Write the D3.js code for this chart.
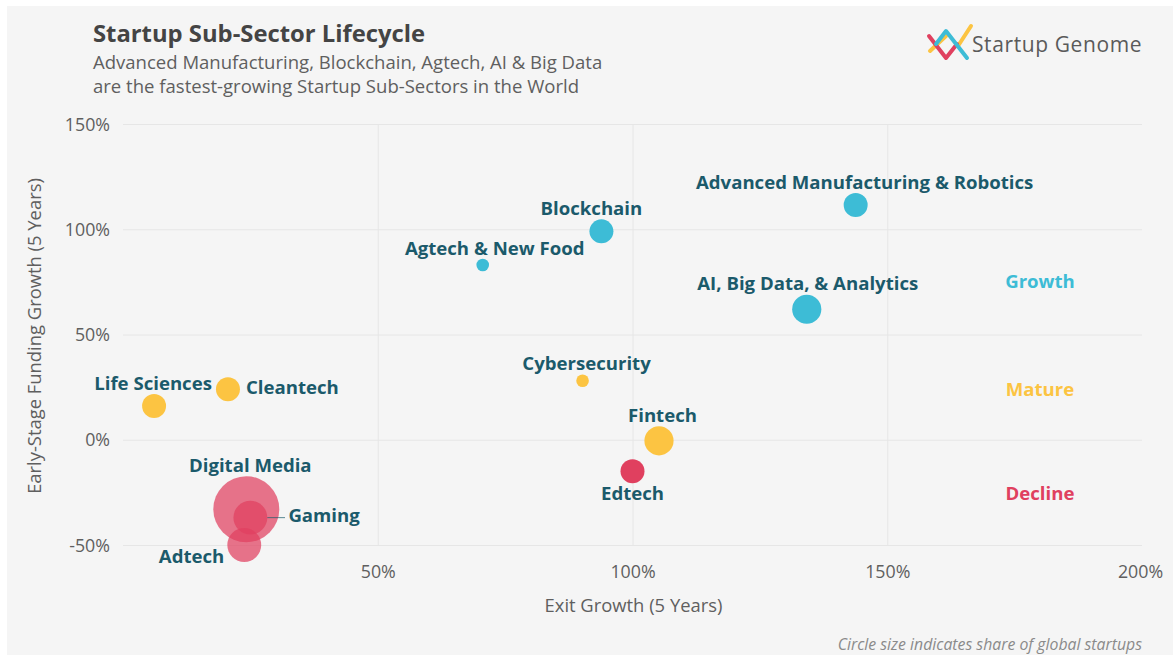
<!DOCTYPE html>
<html><head><meta charset="utf-8">
<script src="https://cdn.jsdelivr.net/npm/d3@7/dist/d3.min.js"></script>
<style>html,body{margin:0;padding:0;background:#fff}svg{display:block}text{font-family:"Open Sans",sans-serif}</style>
</head><body><svg id="c" width="1173" height="655"></svg>
<script>
const sectors=["Advanced Manufacturing & Robotics","Blockchain","Agtech & New Food","AI, Big Data, & Analytics","Cybersecurity","Fintech","Edtech","Life Sciences","Cleantech","Digital Media","Gaming","Adtech"];
const exitGrowth=[143.8,93.9,70.6,134.2,90.2,105.2,100,6.1,20.6,24.2,25,23.8];
const fundingGrowth=[111.5,99,83,62,28,-0.5,-15,16,24,-33,-37,-50];
const share=[2.9,2.9,0.8,4.3,0.8,4.3,2.9,2.9,2.9,22,5.8,5.8];
const stages=["Growth","Growth","Growth","Growth","Mature","Mature","Decline","Mature","Mature","Decline","Decline","Decline"];
const stageNames=["Growth","Mature","Decline"];
const stageColors=["#3dbcd6","#fcc442","#e0405f"];
const xTicks=[50,100,150,200];
const yTicks=[-50,0,50,100,150];

const svg=d3.select("#c");
const x=d3.scaleLinear().domain([0,200]).range([123,1142]);
const y=d3.scaleLinear().domain([-50,150]).range([545,124]);
const r=d3.scaleSqrt().domain([0,22]).range([0,33]);
const color=d3.scaleOrdinal().domain(stageNames).range(stageColors);
const teal="#1b5a6b", grey="#5f5f5f";

svg.append("rect").attr("x",7).attr("y",6).attr("width",1166).attr("height",649).attr("fill","#f5f5f5");

// axes
const xAxis=svg.append("g").attr("transform",`translate(0,${y(150)})`).call(d3.axisBottom(x).tickValues(xTicks).tickSize(y(-50)-y(150)).tickFormat(d=>d+"%"));
const yAxis=svg.append("g").attr("transform",`translate(${x(0)},0)`).call(d3.axisLeft(y).tickValues(yTicks).tickSize(x(0)-x(200)).tickFormat(d=>d+"%"));
[xAxis,yAxis].forEach(g=>{
  g.select(".domain").remove();
  g.selectAll("line").attr("stroke","#e6e6e6").attr("stroke-width",1);
  g.selectAll("text").attr("fill",grey).attr("font-size",17.8);
});
xAxis.selectAll("text").attr("y",y(-50)-y(150)+27).attr("dy","0.35em");
xAxis.selectAll(".tick").filter(d=>d===200).select("text").attr("dx",-2);
xAxis.selectAll(".tick").filter(d=>d===200).select("line").remove();
yAxis.selectAll("text").attr("x",-13).attr("dy","0.35em");

// bubbles
const data=sectors.map((s,i)=>({s,x:exitGrowth[i],y:fundingGrowth[i],share:share[i],stage:stages[i]}));
const drawOrder=data.slice().sort((a,b)=>b.share-a.share);
svg.append("g").selectAll("circle").data(drawOrder).join("circle")
  .attr("cx",d=>x(d.x)).attr("cy",d=>y(d.y)).attr("r",d=>r(d.share))
  .attr("fill",d=>color(d.stage))
  .attr("fill-opacity",d=>["Digital Media","Adtech","Gaming"].includes(d.s)?0.72:1);

// Gaming leader line
const gaming=data.find(d=>d.s==="Gaming");
svg.append("line").attr("x1",x(gaming.x)+r(gaming.share)).attr("x2",285).attr("y1",y(gaming.y)).attr("y2",y(gaming.y))
  .attr("stroke",teal).attr("stroke-opacity",.7).attr("stroke-width",1);

// labels: offsets from each bubble centre
const labelOffsets={
 "Advanced Manufacturing & Robotics":[9,-23,"middle"],
 "Blockchain":[-10,-23,"middle"],
 "Agtech & New Food":[12,-17,"middle"],
 "AI, Big Data, & Analytics":[1,-26,"middle"],
 "Cybersecurity":[4,-17,"middle"],
 "Fintech":[3.5,-25,"middle"],
 "Edtech":[0,22,"middle"],
 "Life Sciences":[-1,-23,"middle"],
 "Cleantech":[18,-2,"start"],
 "Digital Media":[4,-44,"middle"],
 "Gaming":[38,-2,"start"],
 "Adtech":[-20,11,"end"]
};
svg.append("g").selectAll("text").data(data).join("text")
  .attr("x",d=>x(d.x)+labelOffsets[d.s][0]).attr("y",d=>y(d.y)+labelOffsets[d.s][1])
  .attr("text-anchor",d=>labelOffsets[d.s][2]).attr("dy","0.35em")
  .attr("font-size",18.6).attr("font-weight",700).attr("fill",teal).text(d=>d.s);

// stage legend
svg.append("g").selectAll("text").data(stageNames).join("text")
  .attr("x",1040).attr("y",(d,i)=>[281,389,493][i]).attr("dy","0.35em").attr("text-anchor","middle")
  .attr("font-size",18.6).attr("font-weight",700).attr("fill",d=>color(d)).text(d=>d);

// titles
svg.append("text").attr("x",93).attr("y",42).attr("font-size",23.8).attr("font-weight",700).attr("fill","#444").text("Startup Sub-Sector Lifecycle");
svg.append("text").attr("x",93).attr("y",69).attr("font-size",18.55).attr("fill",grey).text("Advanced Manufacturing, Blockchain, Agtech, AI & Big Data");
svg.append("text").attr("x",93).attr("y",93).attr("font-size",18.55).attr("fill",grey).text("are the fastest-growing Startup Sub-Sectors in the World");

// axis titles
svg.append("text").attr("x",633.5).attr("y",612).attr("text-anchor","middle").attr("font-size",18.4).attr("fill",grey).text("Exit Growth (5 Years)");
svg.append("text").attr("transform","translate(41,336) rotate(-90)").attr("text-anchor","middle").attr("font-size",18.4).attr("fill",grey).text("Early-Stage Funding Growth (5 Years)");
svg.append("text").attr("x",1142).attr("y",650).attr("text-anchor","end").attr("font-size",15.8).attr("font-style","italic").attr("fill","#8a8a8a").text("Circle size indicates share of global startups");

// logo
const logo=svg.append("g").attr("fill","none").attr("stroke-width",4).attr("stroke-linecap","round").attr("stroke-linejoin","round");
logo.append("path").attr("stroke","#fcc442").attr("d","M930 51 L946 36 M958 46 L971 26");
logo.append("path").attr("stroke","#e0405f").attr("d","M929 36 L946 58 L957 44");
logo.append("path").attr("stroke","#3dbcd6").attr("d","M936 44 L946 31 L967 58");
svg.append("text").attr("x",972).attr("y",52).attr("font-size",21).attr("letter-spacing",0.6).attr("fill","#5a5a5a").text("Startup Genome");
</script></body></html>
